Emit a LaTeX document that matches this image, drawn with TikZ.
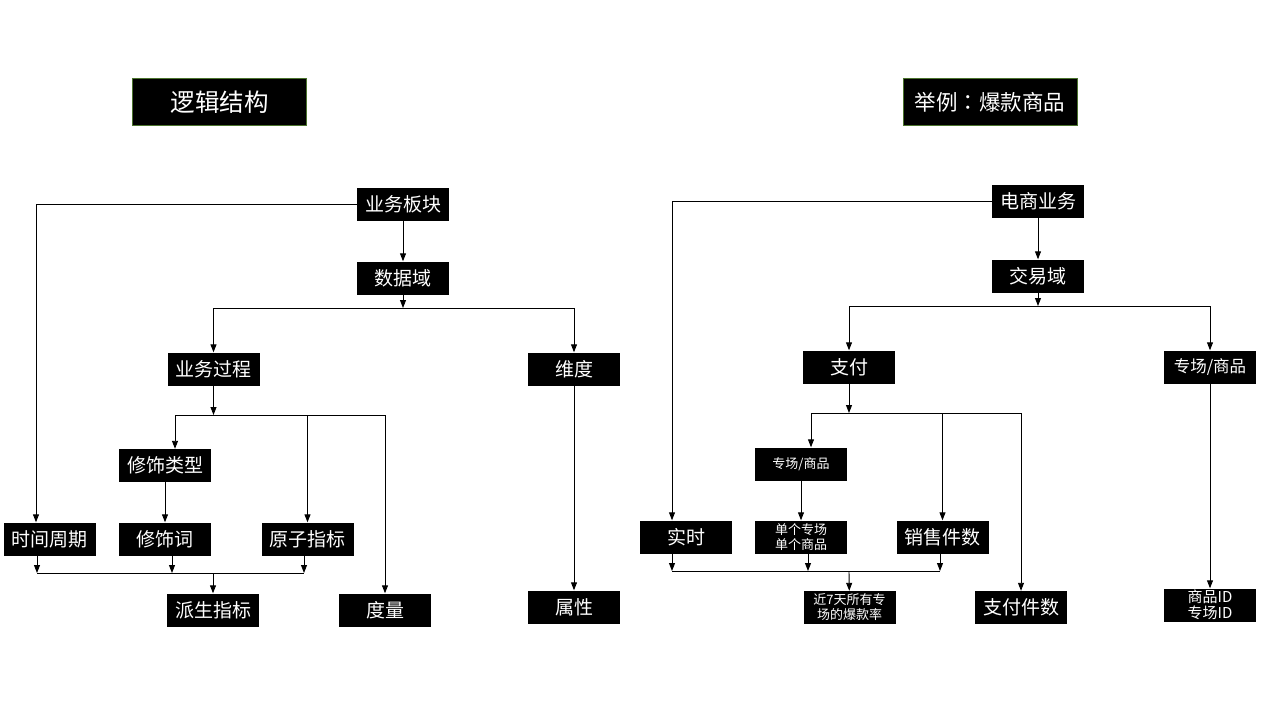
\documentclass[tikz,border=0pt]{standalone}
\usepackage{fontspec}
\newfontfamily\cjk{Noto Sans CJK SC}
\newfontfamily\cjktc{Noto Sans CJK TC}
\usetikzlibrary{arrows.meta}
\definecolor{titleborder}{RGB}{75,115,45}
\tikzset{
  box/.style={fill=black, text=white, minimum width=92pt, minimum height=33pt, inner sep=0pt, align=center, font=\cjk\fontsize{19}{21}\selectfont},
  smallbox/.style={box, font=\cjk\fontsize{13}{15}\selectfont},
  midbox/.style={box, font=\cjk\fontsize{16.5}{18}\selectfont},
  idbox/.style={box, font=\cjk\fontsize{15}{16.5}\selectfont},
  titlebox/.style={fill=black, text=white, draw=titleborder, line width=1pt, minimum width=174pt, minimum height=47pt, inner sep=0pt, font=\cjk\fontsize{24.5}{27}\selectfont},
  arr/.style={draw=black, line width=0.9pt, -{Triangle[length=8pt,width=6pt]}},
  ln/.style={draw=black, line width=0.9pt}
}
\begin{document}
\begin{tikzpicture}[x=1pt,y=-1pt]
\useasboundingbox[fill=white] (0,0) rectangle (1280,720);

% titles
\node[titlebox] (tleft) at (219.5,102) {逻辑结构};
\node[titlebox, font=\cjk\fontsize{21.5}{24}\selectfont] (tright) at (990,102) {举例{\cjktc ：}爆款商品};

% ---------------- left diagram ----------------
\node[box] (ywbk) at (403,204) {业务板块};
\node[box] (sjy) at (403,278) {数据域};
\node[box] (ywgc) at (213.5,369) {业务过程};
\node[box] (wd) at (574,369) {维度};
\node[box] (xslx) at (165,465.5) {修饰类型};
\node[box] (sjzq) at (50,539) {时间周期};
\node[box] (xsc) at (165,539) {修饰词};
\node[box] (yzzb) at (307.5,539) {原子指标};
\node[box] (pszb) at (213,610) {派生指标};
\node[box] (dl) at (385,610) {度量};
\node[box] (sx) at (574,607) {属性};

\coordinate (lb1) at (403,308);
\coordinate (lb2) at (213.5,415);
\coordinate (lc1) at (37,573);
\coordinate (lc2) at (172,573);
\coordinate (lc3) at (304,573);
\coordinate (lb3) at (213,573);

\draw[arr] (ywbk.west) -| ([xshift=-14pt]sjzq.north);
\draw[arr] (ywbk) -- (sjy);
\draw[arr] (sjy) -- (lb1);
\draw[arr] (lb1) -| (ywgc.north);
\draw[arr] (lb1) -| (wd.north);
\draw[arr] (ywgc) -- (lb2);
\draw[arr] (lb2) -| ([xshift=10pt]xslx.north);
\draw[arr] (lb2) -| (yzzb.north);
\draw[arr] (lb2) -| (dl.north);
\draw[arr] (xslx) -- (xsc);
\draw[arr] (wd) -- (sx);
\draw[arr] ([yshift=2pt]sjzq.south -| lc1) -- (lc1);
\draw[arr] ([yshift=2pt]xsc.south -| lc2) -- (lc2);
\draw[arr] ([yshift=2pt]yzzb.south -| lc3) -- (lc3);
\draw[ln] (lc1) -- (lc3);
\draw[arr] (lb3) -- (pszb);

% ---------------- right diagram ----------------
\node[box] (dsyw) at (1038,201.5) {电商业务};
\node[box] (jyy) at (1038,276) {交易域};
\node[box] (zf) at (849,367) {支付};
\node[midbox] (zcsp) at (1210,367) {专场/商品};
\node[smallbox] (zcspb) at (801,464) {专场/商品};
\node[box] (ss) at (686,537) {实时};
\node[smallbox] (dg) at (801,537) {单个专场\\单个商品};
\node[box] (xsjs) at (942.5,537) {销售件数};
\node[smallbox] (jqt) at (849.5,607.5) {近7天所有专\\场的爆款率};
\node[box] (zfjs) at (1021,607.5) {支付件数};
\node[idbox] (spid) at (1210,605) {商品ID\\专场ID};

\coordinate (rb1) at (1038,306);
\coordinate (rb2) at (849,413);
\coordinate (rc1) at (672,571);
\coordinate (rc2) at (808,571);
\coordinate (rc3) at (940,571);
\coordinate (rb3) at (849,571);

\draw[arr] (dsyw.west) -| ([xshift=-14pt]ss.north);
\draw[arr] (dsyw) -- (jyy);
\draw[arr] (jyy) -- (rb1);
\draw[arr] (rb1) -| (zf.north);
\draw[arr] (rb1) -| (zcsp.north);
\draw[arr] (zf) -- (rb2);
\draw[arr] (rb2) -| ([xshift=10pt]zcspb.north);
\draw[arr] (rb2) -| (xsjs.north);
\draw[arr] (rb2) -| (zfjs.north);
\draw[arr] (zcspb) -- (dg);
\draw[arr] (zcsp) -- (spid);
\draw[arr] ([yshift=2pt]ss.south -| rc1) -- (rc1);
\draw[arr] ([yshift=2pt]dg.south -| rc2) -- (rc2);
\draw[arr] ([yshift=2pt]xsjs.south -| rc3) -- (rc3);
\draw[ln] (rc1) -- (rc3);
\draw[arr] (rb3) -- (jqt);
\end{tikzpicture}
\end{document}
